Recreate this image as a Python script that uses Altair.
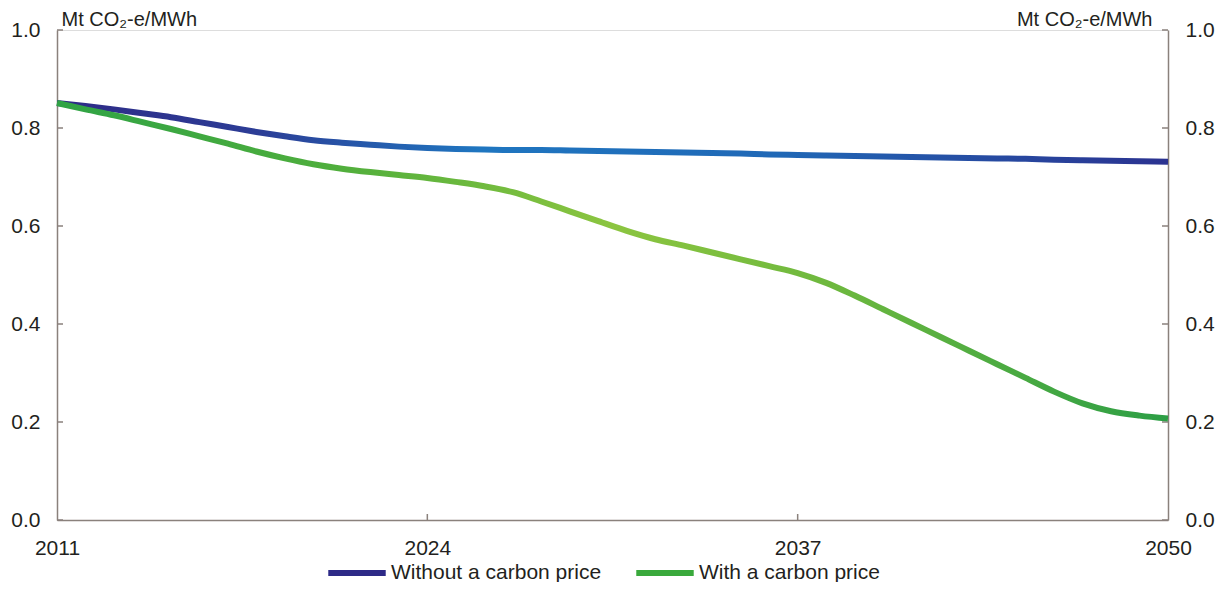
import altair as alt
import pandas as pd

years = list(range(2011, 2051))
without_price = [0.851, 0.845, 0.838, 0.830, 0.822, 0.812, 0.802, 0.792, 0.783, 0.775,
                 0.770, 0.766, 0.762, 0.759, 0.757, 0.756, 0.755, 0.755, 0.754, 0.753,
                 0.752, 0.751, 0.750, 0.749, 0.748, 0.746, 0.745, 0.744, 0.743, 0.742,
                 0.741, 0.740, 0.739, 0.738, 0.737, 0.735, 0.734, 0.733, 0.732, 0.731]
with_price = [0.851, 0.838, 0.826, 0.812, 0.798, 0.783, 0.768, 0.752, 0.738, 0.726,
              0.717, 0.710, 0.704, 0.698, 0.690, 0.681, 0.669, 0.650, 0.630, 0.610,
              0.590, 0.573, 0.560, 0.546, 0.532, 0.518, 0.504, 0.484, 0.458, 0.430,
              0.402, 0.374, 0.346, 0.318, 0.290, 0.262, 0.238, 0.222, 0.213, 0.207]
series_names = ["Without a carbon price", "With a carbon price"]
x_ticks = [2011, 2024, 2037, 2050]
y_ticks = [0.0, 0.2, 0.4, 0.6, 0.8, 1.0]
unit_label = "Mt CO\u2082-e/MWh"

df = pd.DataFrame({
    "year": years * 2,
    "value": without_price + with_price,
    "series": [series_names[0]] * len(years) + [series_names[1]] * len(years),
})
yt = pd.DataFrame({"value": y_ticks})
xt = pd.DataFrame({"year": x_ticks[1:-1]})

W, H = 1111, 490
FONT = "Liberation Sans"
DOM = "#8a817c"
TXT = "#231f20"
FS = 21

xscale = alt.Scale(domain=[2011, 2050], nice=False, zero=False)
yscale = alt.Scale(domain=[0, 1], nice=False)
xaxis = alt.Axis(values=x_ticks, format="d", title=None, ticks=False, grid=False,
                 labelPadding=17, labelFontSize=FS, labelFont=FONT, labelColor=TXT,
                 domainColor=DOM, domainWidth=1.5, labelFlush=False)
left_axis = alt.Axis(values=y_ticks, format=".1f", orient="left", ticks=False, grid=False,
                     labelPadding=17, labelFontSize=FS, labelFont=FONT, labelColor=TXT,
                     domainColor=DOM, domainWidth=1.5,
                     title=unit_label, titleAngle=0, titleX=4, titleY=-5,
                     titleAlign="left", titleBaseline="alphabetic", titleFont=FONT,
                     titleFontSize=20, titleFontWeight="normal", titleColor=TXT)
right_axis = alt.Axis(values=y_ticks, format=".1f", orient="right", ticks=False, grid=False,
                      labelPadding=17, labelFontSize=FS, labelFont=FONT, labelColor=TXT,
                      domainColor=DOM, domainWidth=1.5,
                      title=unit_label, titleAngle=0, titleX=-16, titleY=-5,
                      titleAlign="right", titleBaseline="alphabetic", titleFont=FONT,
                      titleFontSize=20, titleFontWeight="normal", titleColor=TXT)

X = alt.X("year:Q", scale=xscale, axis=xaxis)

legend_layer = alt.Chart(df).mark_line(opacity=0, strokeWidth=6).encode(
    x=X,
    y=alt.Y("value:Q", scale=yscale, axis=left_axis),
    color=alt.Color("series:N", sort=series_names,
                    scale=alt.Scale(domain=series_names, range=["#2d2a87", "#3aa93c"]),
                    legend=alt.Legend(title=None, orient="none", legendX=268, legendY=511,
                                      direction="horizontal", symbolType="stroke",
                                      symbolSize=3300, symbolStrokeWidth=6, symbolOpacity=1,
                                      labelFontSize=FS, labelFont=FONT, labelColor=TXT,
                                      labelLimit=0, labelOffset=2, columnPadding=22)),
)

blue_grad = alt.Gradient(gradient="linear", x1=0, x2=1, y1=0, y2=0, stops=[
    alt.GradientStop(offset=0, color="#2e2a86"),
    alt.GradientStop(offset=0.18, color="#2c3d96"),
    alt.GradientStop(offset=0.38, color="#1f76c0"),
    alt.GradientStop(offset=0.65, color="#2068b6"),
    alt.GradientStop(offset=1, color="#2b3290"),
])
green_grad = alt.Gradient(gradient="linear", x1=0, x2=1, y1=0, y2=0, stops=[
    alt.GradientStop(offset=0, color="#2fa345"),
    alt.GradientStop(offset=0.25, color="#4fae3c"),
    alt.GradientStop(offset=0.5, color="#8cc540"),
    alt.GradientStop(offset=0.7, color="#6db83e"),
    alt.GradientStop(offset=1, color="#2c9e45"),
])

line_without = alt.Chart(df).transform_filter(
    alt.datum.series == series_names[0]
).mark_line(color=blue_grad, strokeWidth=6, interpolate="monotone").encode(
    x=X, y=alt.Y("value:Q", scale=yscale, axis=None))
line_with = alt.Chart(df).transform_filter(
    alt.datum.series == series_names[1]
).mark_line(color=green_grad, strokeWidth=6, interpolate="monotone").encode(
    x=X, y=alt.Y("value:Q", scale=yscale, axis=None))

left_ticks = alt.Chart(yt).mark_rule(color=DOM, strokeWidth=1.5).encode(
    y=alt.Y("value:Q", scale=yscale, axis=None),
    x=alt.value(0), x2=alt.value(6))
right_ticks = alt.Chart(yt).mark_rule(color=DOM, strokeWidth=1.5).encode(
    y=alt.Y("value:Q", scale=yscale, axis=right_axis),
    x=alt.value(W - 6), x2=alt.value(W))
bottom_ticks = alt.Chart(xt).mark_rule(color=DOM, strokeWidth=1.5).encode(
    x=X, y=alt.value(H - 6), y2=alt.value(H))

chart = alt.layer(
    legend_layer, left_ticks, right_ticks, bottom_ticks, line_without, line_with
).resolve_axis(y="independent").properties(
    width=W, height=H,
    padding={"left": 49, "top": 22, "right": 48, "bottom": 62},
    autosize=alt.AutoSizeParams(type="none"),
).configure_view(strokeWidth=0).configure(background="white")

chart.save("out.html", embed_options={"renderer": "svg", "actions": False})
